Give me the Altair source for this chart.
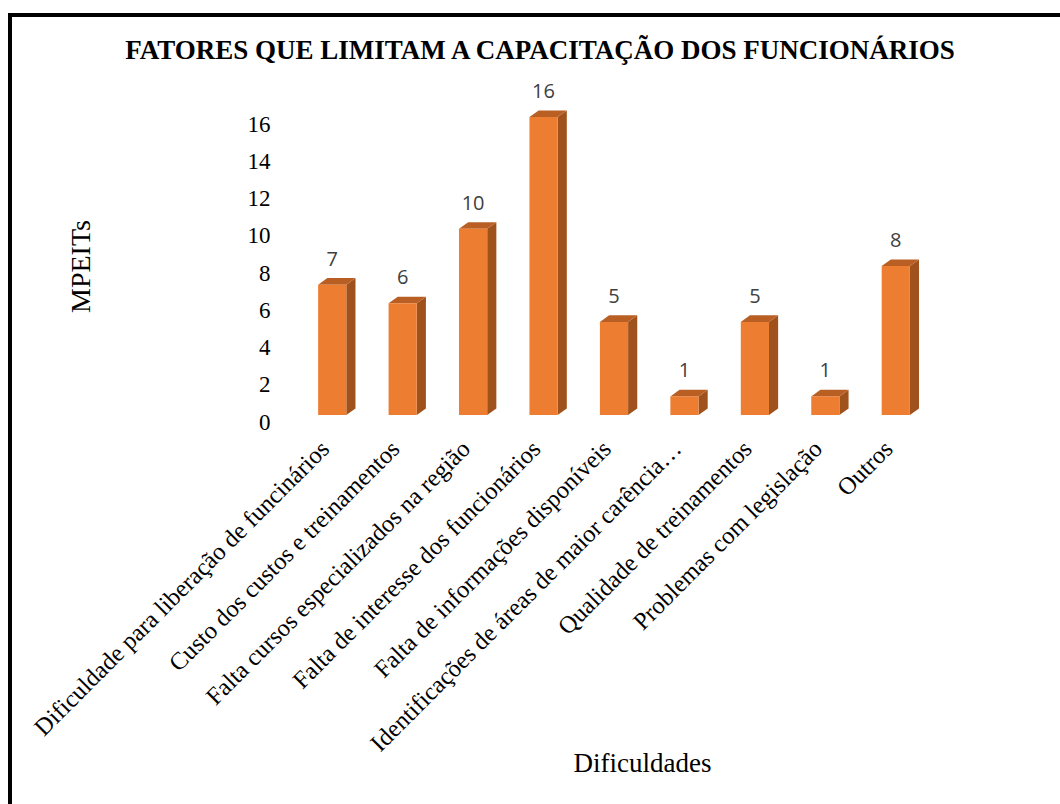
import json
import altair as alt
import pandas as pd

title_text = "FATORES QUE LIMITAM A CAPACITAÇÃO DOS FUNCIONÁRIOS"
categories = [
    "Dificuldade para liberação de funcinários",
    "Custo dos custos e treinamentos",
    "Falta cursos especializados na região",
    "Falta de interesse dos funcionários",
    "Falta de informações disponíveis",
    "Identificações de áreas de maior carência…",
    "Qualidade de treinamentos",
    "Problemas com legislação",
    "Outros",
]
values = [7, 6, 10, 16, 5, 1, 5, 1, 8]
y_ticks = [0, 2, 4, 6, 8, 10, 12, 14, 16]

# 3D look (style constants, in band / value units)
HALF = 0.2
DX = 0.13
DY = 0.35

FRONT = "#ED7D31"
SIDE = "#A0521D"
TOP = "#B95F24"

idx = list(range(len(categories)))
bars = pd.DataFrame({"idx": idx, "cat": categories, "value": values})
bars["x0"] = bars["idx"] - HALF
bars["x1"] = bars["idx"] + HALF

side_rows = []
top_rows = []
for i, c, v in zip(idx, categories, values):
    side_rows.append({"cat": c, "x0": i + HALF, "value": v, "bot": 0})
    side_rows.append({"cat": c, "x0": i + HALF + DX, "value": v + DY, "bot": DY})
    top_rows.append({"cat": c, "value": v, "x0": i - HALF, "x1": i + HALF})
    top_rows.append({"cat": c, "value": v + DY, "x0": i - HALF + DX, "x1": i + HALF + DX})
side = pd.DataFrame(side_rows)
topf = pd.DataFrame(top_rows)

xscale = alt.Scale(domain=[-0.5, len(categories) - 0.5], nice=False, zero=False)
yscale = alt.Scale(domain=[0, 16], nice=False)

label_expr = json.dumps(categories, ensure_ascii=False) + "[datum.value]"

x_axis = alt.Axis(
    values=idx, labelExpr=label_expr, labelAngle=-45, labelAlign="right",
    labelBaseline="middle", labelFont="Liberation Serif", labelFontSize=24.5,
    labelColor="black", labelLimit=1000, labelOverlap=False, labelFlush=False,
    labelBound=False, labelPadding=30, labelOffset=-7,
    domain=False, ticks=False, grid=False,
    title="Dificuldades", titleFont="Liberation Serif", titleFontSize=27,
    titleFontWeight="normal", titleColor="black", titleX=345, titleY=348,
    titleAlign="center", titleBaseline="middle",
)
y_axis = alt.Axis(
    values=y_ticks, labelFont="Liberation Serif", labelFontSize=23,
    labelColor="black", labelPadding=27, labelOffset=7,
    domain=False, ticks=False, grid=False,
    title="MPEITs", titleFont="Liberation Serif", titleFontSize=28,
    titleFontWeight="normal", titleColor="black", titleAngle=-90,
    titleX=-216, titleY=149, titleAlign="center", titleBaseline="middle",
)

X = alt.X("x0:Q", scale=xscale, axis=x_axis, title="Dificuldades")
Y = alt.Y("value:Q", scale=yscale, axis=y_axis, title="MPEITs")

front = alt.Chart(bars).mark_rect(color=FRONT).encode(
    x=X, x2="x1:Q", y=Y, y2=alt.Y2(datum=0),
)

side_layer = alt.Chart(side).mark_area(orient="vertical", color=SIDE).encode(
    x=X, y=Y, y2="bot:Q", detail="cat:N",
)

top_layer = alt.Chart(topf).mark_area(orient="horizontal", color=TOP).encode(
    y=Y, x=X, x2="x1:Q", detail="cat:N",
)

labels = alt.Chart(bars).mark_text(
    font="Open Sans", fontSize=20, color="#404040", dy=-25, baseline="middle"
).encode(
    x=alt.X("idx:Q", scale=xscale, axis=x_axis, title="Dificuldades"),
    y=Y,
    text="value:Q",
)

one = pd.DataFrame({"a": [0]})
frame_left = alt.Chart(one).mark_rule(color="black", strokeWidth=4).encode(
    x=alt.value(-287), y=alt.value(-103), y2=alt.value(700)
)
frame_top = alt.Chart(one).mark_rule(color="black", strokeWidth=4).encode(
    x=alt.value(-289), x2=alt.value(770), y=alt.value(-102)
)
title_mark = alt.Chart(one).mark_text(
    font="Liberation Serif", fontSize=27, fontWeight="bold", color="black",
    align="center", baseline="middle",
).encode(
    x=alt.value(243), y=alt.value(-66), text=alt.value(title_text)
)

chart = alt.layer(
    side_layer, top_layer, front, labels, frame_left, frame_top, title_mark
).properties(
    width=634,
    height=298,
    padding={"left": 297, "top": 117, "right": 129, "bottom": 389},
    autosize=alt.AutoSizeParams(type="none"),
    background="white",
).configure_view(stroke=None)

chart.save("out.html", embed_options={"renderer": "svg", "actions": False})
